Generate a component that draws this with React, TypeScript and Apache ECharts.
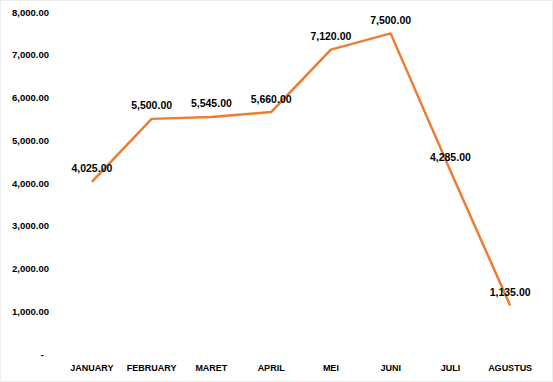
import React, { useEffect, useRef } from "react";
import * as echarts from "echarts";

const categories = ["JANUARY", "FEBRUARY", "MARET", "APRIL", "MEI", "JUNI", "JULI", "AGUSTUS"];
const values = [4025, 5500, 5545, 5660, 7120, 7500, 4285, 1135];
const yTicks = [0, 1000, 2000, 3000, 4000, 5000, 6000, 7000, 8000];

const fmt = (v: number) =>
  v.toLocaleString("en-US", { minimumFractionDigits: 2, maximumFractionDigits: 2 });

export default function App() {
  const ref = useRef<HTMLDivElement>(null);
  useEffect(() => {
    const chart = echarts.init(ref.current!, null, { renderer: "svg" });
    const font = "'Liberation Sans', Arial, sans-serif";
    chart.setOption({
      animation: false,
      backgroundColor: "#ffffff",
      grid: { left: 62, right: 13, top: 12, bottom: 28, containLabel: false },
      graphic: [
        {
          type: "rect",
          shape: { x: 0.5, y: 0.5, width: 552, height: 381 },
          style: { fill: "none", stroke: "#ececec", lineWidth: 1 },
          silent: true,
        },
      ],
      xAxis: {
        type: "category",
        data: categories,
        boundaryGap: true,
        axisLine: { show: false },
        axisTick: { show: false },
        axisLabel: {
          interval: 0,
          color: "#000",
          fontWeight: "bold",
          fontSize: 9,
          fontFamily: font,
          margin: 9,
        },
      },
      yAxis: {
        type: "value",
        min: yTicks[0],
        max: yTicks[yTicks.length - 1],
        interval: 1000,
        splitLine: { show: false },
        axisLine: { show: false },
        axisTick: { show: false },
        axisLabel: {
          color: "#000",
          fontWeight: "bold",
          fontSize: 9.5,
          fontFamily: font,
          margin: 13,
          formatter: (v: number) => (v === 0 ? "{d|-}" : fmt(v)),
          rich: { d: { fontWeight: "bold", fontSize: 9.5, padding: [0, 5, 0, 0], color: "#000" } },
        },
      },
      series: [
        {
          type: "line",
          data: values,
          symbol: "circle",
          symbolSize: 2,
          showSymbol: true,
          lineStyle: { color: "#ED7D31", width: 2.5 },
          itemStyle: { color: "rgba(237,125,49,0)", borderWidth: 0 },
          label: {
            show: true,
            position: "top",
            distance: 7,
            color: "#000",
            fontWeight: "bold",
            fontSize: 10.5,
            fontFamily: font,
            formatter: (p: any) => fmt(p.value),
          },
        },
      ],
    });
    return () => chart.dispose();
  }, []);
  return (
    <div
      ref={ref}
      style={{ position: "absolute", left: 0, top: 0, width: 553, height: 382 }}
    />
  );
}
